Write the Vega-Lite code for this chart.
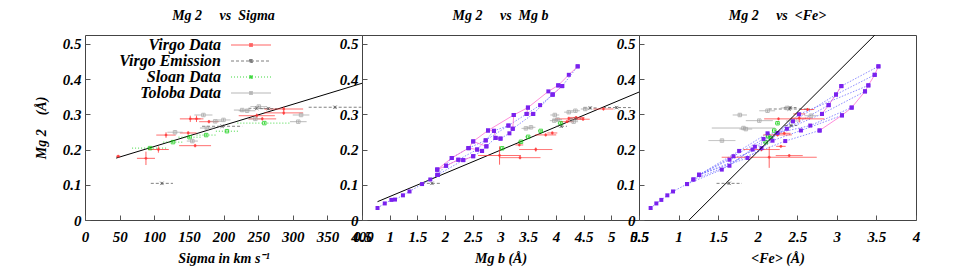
{
  "$schema": "https://vega.github.io/schema/vega-lite/v6.json",
  "background": "white",
  "padding": {"left": 33, "top": 8, "right": 5, "bottom": 5},
  "spacing": 0,
  "bounds": "flush",
  "resolve": {"scale": {"x": "independent", "y": "independent", "color": "shared", "strokeDash": "shared"}},
  "config": {
    "view": {"stroke": "#444", "strokeWidth": 1},
    "font": "Liberation Serif",
    "axis": {
      "labelFont": "Liberation Serif", "labelFontStyle": "italic", "labelFontWeight": "bold", "labelFontSize": 15, "labelColor": "#000",
      "titleFont": "Liberation Serif", "titleFontStyle": "italic", "titleFontWeight": "bold", "titleFontSize": 14, "titleColor": "#000",
      "domain": false, "grid": false, "tickColor": "#555", "tickSize": -5, "labelFlush": false, "labelOverlap": false
    },
    "axisX": {"labelPadding": 14, "titlePadding": 7},
    "axisY": {"labelPadding": 9, "titlePadding": 14},
    "title": {"font": "Liberation Serif", "fontSize": 14, "fontStyle": "italic", "fontWeight": "bold", "color": "#000", "offset": 12}
  },
  "datasets": {
    "fit": [
      {"p": 1, "x": 45, "y": 0.1757}, {"p": 1, "x": 400, "y": 0.388},
      {"p": 2, "x": 0.78, "y": 0.052}, {"p": 2, "x": 5.5, "y": 0.363},
      {"p": 3, "x": 1.133, "y": 0}, {"p": 3, "x": 3.48, "y": 0.525}
    ],
    "obs": [
      {"p":1,"s":"Virgo Data","x":48,"xlo":45,"xhi":51,"y":0.181,"ylo":0.178,"yhi":0.184},
      {"p":1,"s":"Virgo Data","x":88,"xlo":75,"xhi":101,"y":0.175,"ylo":0.156,"yhi":0.194},
      {"p":1,"s":"Virgo Data","x":106,"xlo":91,"xhi":121,"y":0.2,"ylo":0.191,"yhi":0.209},
      {"p":1,"s":"Virgo Data","x":117,"xlo":103,"xhi":131,"y":0.241,"ylo":0.233,"yhi":0.249},
      {"p":1,"s":"Virgo Data","x":149,"xlo":137,"xhi":161,"y":0.247,"ylo":0.242,"yhi":0.252},
      {"p":1,"s":"Virgo Data","x":159,"xlo":136,"xhi":182,"y":0.211,"ylo":0.206,"yhi":0.216},
      {"p":1,"s":"Virgo Data","x":152,"xlo":137,"xhi":167,"y":0.287,"ylo":0.278,"yhi":0.296},
      {"p":1,"s":"Virgo Data","x":161,"xlo":151,"xhi":171,"y":0.287,"ylo":0.278,"yhi":0.296},
      {"p":1,"s":"Virgo Data","x":179,"xlo":165,"xhi":193,"y":0.279,"ylo":0.274,"yhi":0.284},
      {"p":1,"s":"Virgo Data","x":248,"xlo":222,"xhi":274,"y":0.296,"ylo":0.29,"yhi":0.302},
      {"p":1,"s":"Virgo Data","x":256,"xlo":236,"xhi":276,"y":0.287,"ylo":0.282,"yhi":0.292},
      {"p":1,"s":"Virgo Data","x":287,"xlo":259,"xhi":315,"y":0.315,"ylo":0.309,"yhi":0.321},
      {"p":1,"s":"Virgo Data","x":287,"xlo":259,"xhi":315,"y":0.304,"ylo":0.298,"yhi":0.31},
      {"p":1,"s":"Virgo Emission","x":111,"xlo":95,"xhi":127,"y":0.104,"ylo":0.1,"yhi":0.108},
      {"p":1,"s":"Virgo Emission","x":198,"xlo":169,"xhi":227,"y":0.266,"ylo":0.262,"yhi":0.27},
      {"p":1,"s":"Virgo Emission","x":248,"xlo":236,"xhi":260,"y":0.317,"ylo":0.313,"yhi":0.321},
      {"p":1,"s":"Virgo Emission","x":265,"xlo":253,"xhi":277,"y":0.316,"ylo":0.312,"yhi":0.32},
      {"p":1,"s":"Virgo Emission","x":361,"xlo":323,"xhi":399,"y":0.32,"ylo":0.316,"yhi":0.324},
      {"p":1,"s":"Sloan Data","x":94,"xlo":68,"xhi":120,"y":0.204,"ylo":0.201,"yhi":0.207},
      {"p":1,"s":"Sloan Data","x":127,"xlo":113,"xhi":141,"y":0.221,"ylo":0.218,"yhi":0.224},
      {"p":1,"s":"Sloan Data","x":151,"xlo":135,"xhi":167,"y":0.235,"ylo":0.232,"yhi":0.238},
      {"p":1,"s":"Sloan Data","x":175,"xlo":161,"xhi":189,"y":0.241,"ylo":0.238,"yhi":0.244},
      {"p":1,"s":"Sloan Data","x":205,"xlo":189,"xhi":221,"y":0.252,"ylo":0.249,"yhi":0.255},
      {"p":1,"s":"Sloan Data","x":259,"xlo":220,"xhi":298,"y":0.275,"ylo":0.272,"yhi":0.278},
      {"p":1,"s":"Toloba Data","x":130,"xlo":119,"xhi":141,"y":0.249,"ylo":0.245,"yhi":0.253},
      {"p":1,"s":"Toloba Data","x":155,"xlo":147,"xhi":163,"y":0.224,"ylo":0.22,"yhi":0.228},
      {"p":1,"s":"Toloba Data","x":171,"xlo":158,"xhi":184,"y":0.298,"ylo":0.294,"yhi":0.302},
      {"p":1,"s":"Toloba Data","x":176,"xlo":166,"xhi":186,"y":0.261,"ylo":0.257,"yhi":0.265},
      {"p":1,"s":"Toloba Data","x":188,"xlo":178,"xhi":198,"y":0.28,"ylo":0.276,"yhi":0.284},
      {"p":1,"s":"Toloba Data","x":200,"xlo":190,"xhi":210,"y":0.284,"ylo":0.28,"yhi":0.288},
      {"p":1,"s":"Toloba Data","x":227,"xlo":215,"xhi":239,"y":0.312,"ylo":0.308,"yhi":0.316},
      {"p":1,"s":"Toloba Data","x":234,"xlo":222,"xhi":246,"y":0.31,"ylo":0.306,"yhi":0.314},
      {"p":1,"s":"Toloba Data","x":251,"xlo":239,"xhi":263,"y":0.322,"ylo":0.318,"yhi":0.326},
      {"p":1,"s":"Toloba Data","x":308,"xlo":296,"xhi":320,"y":0.279,"ylo":0.275,"yhi":0.283},
      {"p":1,"s":"Toloba Data","x":312,"xlo":300,"xhi":324,"y":0.298,"ylo":0.294,"yhi":0.302},
      {"p":1,"s":"Toloba Data","x":246,"xlo":236,"xhi":256,"y":0.287,"ylo":0.283,"yhi":0.291},

      {"p":2,"s":"Virgo Data","x":2.983,"xlo":2.596,"xhi":3.37,"y":0.183,"ylo":0.157,"yhi":0.209},
      {"p":2,"s":"Virgo Data","x":3.352,"xlo":2.983,"xhi":3.721,"y":0.177,"ylo":0.172,"yhi":0.182},
      {"p":2,"s":"Virgo Data","x":3.637,"xlo":3.339,"xhi":3.935,"y":0.2,"ylo":0.194,"yhi":0.206},
      {"p":2,"s":"Virgo Data","x":3.34,"xlo":3.27,"xhi":3.41,"y":0.213,"ylo":0.209,"yhi":0.217},
      {"p":2,"s":"Virgo Data","x":3.816,"xlo":3.626,"xhi":4.006,"y":0.2415,"ylo":0.237,"yhi":0.246},
      {"p":2,"s":"Virgo Data","x":3.935,"xlo":3.845,"xhi":4.025,"y":0.247,"ylo":0.243,"yhi":0.251},
      {"p":2,"s":"Virgo Data","x":4.233,"xlo":3.993,"xhi":4.473,"y":0.287,"ylo":0.281,"yhi":0.293},
      {"p":2,"s":"Virgo Data","x":4.364,"xlo":4.214,"xhi":4.514,"y":0.291,"ylo":0.287,"yhi":0.295},
      {"p":2,"s":"Virgo Data","x":4.49,"xlo":4.37,"xhi":4.61,"y":0.286,"ylo":0.282,"yhi":0.29},
      {"p":2,"s":"Virgo Data","x":4.858,"xlo":4.678,"xhi":5.038,"y":0.315,"ylo":0.311,"yhi":0.319},
      {"p":2,"s":"Virgo Data","x":4.2,"xlo":4.08,"xhi":4.32,"y":0.279,"ylo":0.275,"yhi":0.283},
      {"p":2,"s":"Sloan Data","x":3.03,"xlo":2.98,"xhi":3.08,"y":0.2036,"ylo":0.2006,"yhi":0.2066},
      {"p":2,"s":"Sloan Data","x":3.37,"xlo":3.32,"xhi":3.42,"y":0.222,"ylo":0.219,"yhi":0.225},
      {"p":2,"s":"Sloan Data","x":3.5,"xlo":3.45,"xhi":3.55,"y":0.236,"ylo":0.233,"yhi":0.239},
      {"p":2,"s":"Sloan Data","x":3.727,"xlo":3.677,"xhi":3.777,"y":0.2528,"ylo":0.2498,"yhi":0.2558},
      {"p":2,"s":"Sloan Data","x":4.084,"xlo":4.034,"xhi":4.134,"y":0.275,"ylo":0.272,"yhi":0.278},
      {"p":2,"s":"Virgo Emission","x":1.762,"xlo":1.58,"xhi":1.94,"y":0.104,"ylo":0.1,"yhi":0.108},
      {"p":2,"s":"Virgo Emission","x":4.096,"xlo":4.0,"xhi":4.2,"y":0.266,"ylo":0.262,"yhi":0.27},
      {"p":2,"s":"Virgo Emission","x":4.352,"xlo":4.25,"xhi":4.45,"y":0.287,"ylo":0.283,"yhi":0.291},
      {"p":2,"s":"Virgo Emission","x":4.62,"xlo":4.5,"xhi":4.74,"y":0.318,"ylo":0.314,"yhi":0.322},
      {"p":2,"s":"Virgo Emission","x":5.096,"xlo":4.85,"xhi":5.35,"y":0.319,"ylo":0.315,"yhi":0.323},
      {"p":2,"s":"Toloba Data","x":3.459,"xlo":3.38,"xhi":3.54,"y":0.26,"ylo":0.256,"yhi":0.264},
      {"p":2,"s":"Toloba Data","x":3.55,"xlo":3.47,"xhi":3.63,"y":0.263,"ylo":0.259,"yhi":0.267},
      {"p":2,"s":"Toloba Data","x":3.98,"xlo":3.9,"xhi":4.06,"y":0.298,"ylo":0.294,"yhi":0.302},
      {"p":2,"s":"Toloba Data","x":4.03,"xlo":3.95,"xhi":4.11,"y":0.285,"ylo":0.281,"yhi":0.289},
      {"p":2,"s":"Toloba Data","x":4.233,"xlo":4.15,"xhi":4.31,"y":0.306,"ylo":0.302,"yhi":0.31},
      {"p":2,"s":"Toloba Data","x":4.352,"xlo":4.27,"xhi":4.43,"y":0.31,"ylo":0.306,"yhi":0.314},
      {"p":2,"s":"Toloba Data","x":4.53,"xlo":4.45,"xhi":4.61,"y":0.315,"ylo":0.311,"yhi":0.319},
      {"p":2,"s":"Toloba Data","x":4.32,"xlo":4.24,"xhi":4.4,"y":0.279,"ylo":0.275,"yhi":0.283},
      {"p":2,"s":"Toloba Data","x":3.97,"xlo":3.89,"xhi":4.05,"y":0.282,"ylo":0.278,"yhi":0.286},

      {"p":3,"s":"Virgo Data","x":2.145,"xlo":1.545,"xhi":2.745,"y":0.178,"ylo":0.148,"yhi":0.208},
      {"p":3,"s":"Virgo Data","x":2.398,"xlo":2.228,"xhi":2.568,"y":0.1828,"ylo":0.179,"yhi":0.187},
      {"p":3,"s":"Virgo Data","x":2.048,"xlo":1.818,"xhi":2.278,"y":0.2,"ylo":0.195,"yhi":0.205},
      {"p":3,"s":"Virgo Data","x":2.293,"xlo":2.233,"xhi":2.353,"y":0.209,"ylo":0.205,"yhi":0.213},
      {"p":3,"s":"Virgo Data","x":2.251,"xlo":2.071,"xhi":2.431,"y":0.2415,"ylo":0.237,"yhi":0.246},
      {"p":3,"s":"Virgo Data","x":2.335,"xlo":2.255,"xhi":2.415,"y":0.246,"ylo":0.242,"yhi":0.25},
      {"p":3,"s":"Virgo Data","x":2.263,"xlo":2.082,"xhi":2.841,"y":0.287,"ylo":0.283,"yhi":0.291},
      {"p":3,"s":"Virgo Data","x":2.525,"xlo":2.42,"xhi":2.67,"y":0.289,"ylo":0.277,"yhi":0.301},
      {"p":3,"s":"Virgo Data","x":2.63,"xlo":2.546,"xhi":2.714,"y":0.3135,"ylo":0.309,"yhi":0.318},
      {"p":3,"s":"Virgo Data","x":2.525,"xlo":2.45,"xhi":2.6,"y":0.301,"ylo":0.297,"yhi":0.305},
      {"p":3,"s":"Sloan Data","x":2.251,"xlo":2.22,"xhi":2.28,"y":0.2746,"ylo":0.2716,"yhi":0.2776},
      {"p":3,"s":"Sloan Data","x":2.209,"xlo":2.18,"xhi":2.24,"y":0.2538,"ylo":0.2508,"yhi":0.2568},
      {"p":3,"s":"Sloan Data","x":2.133,"xlo":2.1,"xhi":2.16,"y":0.2377,"ylo":0.2347,"yhi":0.2407},
      {"p":3,"s":"Sloan Data","x":2.166,"xlo":2.14,"xhi":2.2,"y":0.232,"ylo":0.229,"yhi":0.235},
      {"p":3,"s":"Sloan Data","x":2.103,"xlo":2.07,"xhi":2.13,"y":0.2206,"ylo":0.2176,"yhi":0.2236},
      {"p":3,"s":"Virgo Emission","x":1.639,"xlo":1.48,"xhi":1.8,"y":0.104,"ylo":0.1,"yhi":0.108},
      {"p":3,"s":"Virgo Emission","x":2.398,"xlo":2.14,"xhi":2.66,"y":0.315,"ylo":0.311,"yhi":0.319},
      {"p":3,"s":"Virgo Emission","x":2.42,"xlo":2.34,"xhi":2.5,"y":0.268,"ylo":0.264,"yhi":0.272},
      {"p":3,"s":"Virgo Emission","x":2.41,"xlo":2.33,"xhi":2.49,"y":0.319,"ylo":0.315,"yhi":0.323},
      {"p":3,"s":"Toloba Data","x":1.774,"xlo":1.684,"xhi":1.864,"y":0.298,"ylo":0.294,"yhi":0.302},
      {"p":3,"s":"Toloba Data","x":1.82,"xlo":1.42,"xhi":2.22,"y":0.261,"ylo":0.257,"yhi":0.265},
      {"p":3,"s":"Toloba Data","x":1.548,"xlo":1.378,"xhi":1.718,"y":0.2254,"ylo":0.2214,"yhi":0.2294},
      {"p":3,"s":"Toloba Data","x":2.02,"xlo":1.85,"xhi":2.19,"y":0.282,"ylo":0.278,"yhi":0.286},
      {"p":3,"s":"Toloba Data","x":2.124,"xlo":2.02,"xhi":2.22,"y":0.31,"ylo":0.306,"yhi":0.314},
      {"p":3,"s":"Toloba Data","x":2.369,"xlo":2.29,"xhi":2.45,"y":0.318,"ylo":0.314,"yhi":0.322},
      {"p":3,"s":"Toloba Data","x":2.673,"xlo":2.59,"xhi":2.75,"y":0.296,"ylo":0.292,"yhi":0.3},
      {"p":3,"s":"Toloba Data","x":2.44,"xlo":2.36,"xhi":2.52,"y":0.281,"ylo":0.277,"yhi":0.285},
      {"p":3,"s":"Toloba Data","x":1.85,"xlo":1.77,"xhi":1.93,"y":0.258,"ylo":0.254,"yhi":0.262}
    ],
    "grid": [
      {"p":2,"g":"2L","k":"a","o":1,"x":0.78,"y":0.034},
      {"p":2,"g":"2L","k":"a","o":2,"x":0.911,"y":0.047},
      {"p":2,"g":"2L","k":"a","o":3,"x":1.03,"y":0.057},
      {"p":2,"g":"2L","k":"a","o":4,"x":1.096,"y":0.058},
      {"p":2,"g":"2L","k":"a","o":5,"x":1.239,"y":0.07},
      {"p":2,"g":"2L","k":"a","o":6,"x":1.358,"y":0.081},
      {"p":2,"g":"2L","k":"a","o":7,"x":1.584,"y":0.102},
      {"p":2,"g":"2L","k":"a","o":8,"x":1.733,"y":0.115},
      {"p":2,"g":"2L","k":"a","o":9,"x":1.864,"y":0.128},
      {"p":2,"g":"2A","k":"z","o":1,"x":1.858,"y":0.143},
      {"p":2,"g":"2A","k":"z","o":2,"x":2.12,"y":0.176},
      {"p":2,"g":"2A","k":"z","o":3,"x":2.423,"y":0.204},
      {"p":2,"g":"2A","k":"z","o":4,"x":2.507,"y":0.223},
      {"p":2,"g":"2A","k":"z","o":5,"x":2.774,"y":0.254},
      {"p":2,"g":"2A","k":"z","o":6,"x":3.239,"y":0.298},
      {"p":2,"g":"2A","k":"z","o":7,"x":3.495,"y":0.319},
      {"p":2,"g":"2A","k":"z","o":8,"x":3.864,"y":0.365},
      {"p":2,"g":"2A","k":"z","o":9,"x":4.042,"y":0.382},
      {"p":2,"g":"2A","k":"z","o":10,"x":4.233,"y":0.412},
      {"p":2,"g":"2A","k":"z","o":11,"x":4.393,"y":0.436},
      {"p":2,"g":"2B","k":"a","o":1,"x":2.018,"y":0.154},
      {"p":2,"g":"2B","k":"a","o":2,"x":2.239,"y":0.171},
      {"p":2,"g":"2B","k":"a","o":3,"x":2.578,"y":0.2},
      {"p":2,"g":"2B","k":"a","o":4,"x":2.733,"y":0.226},
      {"p":2,"g":"2B","k":"a","o":5,"x":2.882,"y":0.253},
      {"p":2,"g":"2B","k":"a","o":6,"x":3.143,"y":0.268},
      {"p":2,"g":"2B","k":"a","o":7,"x":3.471,"y":0.301},
      {"p":2,"g":"2B","k":"a","o":8,"x":3.715,"y":0.326},
      {"p":2,"g":"2B","k":"a","o":9,"x":3.941,"y":0.356},
      {"p":2,"g":"2B","k":"a","o":10,"x":4.114,"y":0.38},
      {"p":2,"g":"2B","k":"a","o":11,"x":4.393,"y":0.436},
      {"p":2,"g":"2C","k":"a","o":1,"x":1.864,"y":0.128},
      {"p":2,"g":"2C","k":"a","o":2,"x":2.328,"y":0.17},
      {"p":2,"g":"2C","k":"a","o":3,"x":2.507,"y":0.181},
      {"p":2,"g":"2C","k":"a","o":4,"x":2.667,"y":0.196},
      {"p":2,"g":"2C","k":"a","o":5,"x":2.745,"y":0.209},
      {"p":2,"g":"2C","k":"a","o":6,"x":2.911,"y":0.233},
      {"p":2,"g":"2C","k":"a","o":7,"x":3.0,"y":0.231},
      {"p":2,"g":"2C","k":"a","o":8,"x":3.161,"y":0.246},
      {"p":2,"g":"2C","k":"a","o":9,"x":3.221,"y":0.259},
      {"p":2,"g":"2C","k":"a","o":10,"x":3.59,"y":0.301},
      {"p":2,"g":"2C","k":"a","o":11,"x":3.941,"y":0.356},
      {"p":2,"g":"2D","k":"a","o":1,"x":1.864,"y":0.128},
      {"p":2,"g":"2D","k":"a","o":2,"x":1.858,"y":0.143},
      {"p":2,"g":"2E","k":"a","o":1,"x":1.864,"y":0.128},
      {"p":2,"g":"2E","k":"a","o":2,"x":2.12,"y":0.176},
      {"p":2,"g":"2E","k":"a","o":3,"x":2.423,"y":0.204},
      {"p":2,"g":"2E","k":"a","o":4,"x":2.733,"y":0.226},
      {"p":2,"g":"2E","k":"a","o":5,"x":3.143,"y":0.268},
      {"p":2,"g":"2Z1","k":"z","o":1,"x":1.858,"y":0.143},
      {"p":2,"g":"2Z1","k":"z","o":2,"x":2.018,"y":0.154},
      {"p":2,"g":"2Z1","k":"z","o":3,"x":2.239,"y":0.171},
      {"p":2,"g":"2Z1","k":"z","o":4,"x":2.328,"y":0.17},
      {"p":2,"g":"2Z1","k":"z","o":5,"x":2.507,"y":0.181},
      {"p":2,"g":"2Z2","k":"z","o":1,"x":2.423,"y":0.204},
      {"p":2,"g":"2Z2","k":"z","o":2,"x":2.578,"y":0.2},
      {"p":2,"g":"2Z2","k":"z","o":3,"x":2.667,"y":0.196},
      {"p":2,"g":"2Z3","k":"z","o":1,"x":2.507,"y":0.223},
      {"p":2,"g":"2Z3","k":"z","o":2,"x":2.745,"y":0.209},
      {"p":2,"g":"2Z4","k":"z","o":1,"x":2.774,"y":0.254},
      {"p":2,"g":"2Z4","k":"z","o":2,"x":2.882,"y":0.253},
      {"p":2,"g":"2Z4","k":"z","o":3,"x":2.911,"y":0.233},
      {"p":2,"g":"2Z4","k":"z","o":4,"x":3.0,"y":0.231},
      {"p":2,"g":"2Z5","k":"z","o":1,"x":3.239,"y":0.298},
      {"p":2,"g":"2Z5","k":"z","o":2,"x":3.221,"y":0.259},
      {"p":2,"g":"2Z6","k":"z","o":1,"x":3.495,"y":0.319},
      {"p":2,"g":"2Z6","k":"z","o":2,"x":3.471,"y":0.301},
      {"p":2,"g":"2Z6","k":"z","o":3,"x":3.59,"y":0.301},
      {"p":2,"g":"2Z7","k":"z","o":1,"x":4.042,"y":0.382},
      {"p":2,"g":"2Z7","k":"z","o":2,"x":4.114,"y":0.38},
      {"p":2,"g":"2Z7","k":"z","o":3,"x":3.941,"y":0.356},

      {"p":3,"g":"3L","k":"a","o":1,"x":0.647,"y":0.034},
      {"p":3,"g":"3L","k":"a","o":2,"x":0.719,"y":0.047},
      {"p":3,"g":"3L","k":"a","o":3,"x":0.782,"y":0.057},
      {"p":3,"g":"3L","k":"a","o":4,"x":0.858,"y":0.07},
      {"p":3,"g":"3L","k":"a","o":5,"x":0.93,"y":0.081},
      {"p":3,"g":"3L","k":"a","o":6,"x":1.107,"y":0.102},
      {"p":3,"g":"3L","k":"a","o":7,"x":1.187,"y":0.115},
      {"p":3,"g":"3L","k":"a","o":8,"x":1.259,"y":0.128},
      {"p":3,"g":"3T1","k":"a","o":1,"x":1.107,"y":0.102},
      {"p":3,"g":"3T1","k":"a","o":2,"x":1.546,"y":0.143},
      {"p":3,"g":"3T1","k":"a","o":3,"x":1.934,"y":0.2},
      {"p":3,"g":"3T1","k":"a","o":4,"x":2.369,"y":0.259},
      {"p":3,"g":"3T1","k":"a","o":5,"x":2.896,"y":0.326},
      {"p":3,"g":"3T1","k":"a","o":6,"x":3.057,"y":0.38},
      {"p":3,"g":"3T1","k":"a","o":7,"x":3.525,"y":0.436},
      {"p":3,"g":"3T2","k":"a","o":1,"x":1.187,"y":0.115},
      {"p":3,"g":"3T2","k":"a","o":2,"x":1.643,"y":0.154},
      {"p":3,"g":"3T2","k":"a","o":3,"x":1.964,"y":0.208},
      {"p":3,"g":"3T2","k":"a","o":4,"x":2.445,"y":0.28},
      {"p":3,"g":"3T2","k":"a","o":5,"x":2.989,"y":0.356},
      {"p":3,"g":"3T2","k":"a","o":6,"x":3.478,"y":0.412},
      {"p":3,"g":"3T3","k":"a","o":1,"x":1.259,"y":0.128},
      {"p":3,"g":"3T3","k":"a","o":2,"x":1.643,"y":0.171},
      {"p":3,"g":"3T3","k":"a","o":3,"x":2.048,"y":0.204},
      {"p":3,"g":"3T3","k":"a","o":4,"x":2.521,"y":0.3},
      {"p":3,"g":"3T3","k":"a","o":5,"x":3.398,"y":0.382},
      {"p":3,"g":"3T4","k":"a","o":1,"x":1.259,"y":0.128},
      {"p":3,"g":"3T4","k":"a","o":2,"x":1.694,"y":0.181},
      {"p":3,"g":"3T4","k":"a","o":3,"x":2.073,"y":0.23},
      {"p":3,"g":"3T4","k":"a","o":4,"x":2.812,"y":0.301},
      {"p":3,"g":"3T4","k":"a","o":5,"x":3.356,"y":0.365},
      {"p":3,"g":"3T5","k":"a","o":1,"x":1.259,"y":0.128},
      {"p":3,"g":"3T5","k":"a","o":2,"x":1.765,"y":0.196},
      {"p":3,"g":"3T5","k":"a","o":3,"x":2.124,"y":0.246},
      {"p":3,"g":"3T5","k":"a","o":4,"x":2.251,"y":0.247},
      {"p":3,"g":"3T5","k":"a","o":5,"x":2.664,"y":0.268},
      {"p":3,"g":"3T5","k":"a","o":6,"x":3.187,"y":0.319},
      {"p":3,"g":"3T6","k":"a","o":1,"x":1.259,"y":0.128},
      {"p":3,"g":"3T6","k":"a","o":2,"x":1.871,"y":0.176},
      {"p":3,"g":"3T6","k":"a","o":3,"x":2.187,"y":0.225},
      {"p":3,"g":"3T6","k":"a","o":4,"x":2.546,"y":0.254},
      {"p":3,"g":"3T6","k":"a","o":5,"x":3.065,"y":0.297},
      {"p":3,"g":"3T7","k":"a","o":1,"x":1.259,"y":0.128},
      {"p":3,"g":"3T7","k":"a","o":2,"x":2.348,"y":0.224},
      {"p":3,"g":"3T7","k":"a","o":3,"x":2.782,"y":0.254},
      {"p":3,"g":"3Z1","k":"z","o":1,"x":3.525,"y":0.436},
      {"p":3,"g":"3Z1","k":"z","o":2,"x":3.478,"y":0.412},
      {"p":3,"g":"3Z1","k":"z","o":3,"x":3.398,"y":0.382},
      {"p":3,"g":"3Z1","k":"z","o":4,"x":3.356,"y":0.365},
      {"p":3,"g":"3Z1","k":"z","o":5,"x":3.187,"y":0.319},
      {"p":3,"g":"3Z1","k":"z","o":6,"x":3.065,"y":0.297},
      {"p":3,"g":"3Z1","k":"z","o":7,"x":2.782,"y":0.254},
      {"p":3,"g":"3Z2","k":"z","o":1,"x":3.057,"y":0.38},
      {"p":3,"g":"3Z2","k":"z","o":2,"x":2.989,"y":0.356},
      {"p":3,"g":"3Z2","k":"z","o":3,"x":2.896,"y":0.326},
      {"p":3,"g":"3Z2","k":"z","o":4,"x":2.812,"y":0.301}
    ]
  },
  "hconcat": [
    {
      "width": 277, "height": 185,
      "title": "Mg 2\u00a0\u00a0\u00a0\u00a0 vs\u00a0 Sigma",
      "layer": [
        {
          "data": {"name": "fit"}, "transform": [{"filter": "datum.p == 1"}],
          "mark": {"type": "line", "color": "#000", "strokeWidth": 1, "clip": true},
          "encoding": {
            "x": {"field": "x", "type": "quantitative", "scale": {"domain": [0, 400], "nice": false, "zero": false}, "axis": {"values": [0,50,100,150,200,250,300,350,400], "format": "~r", "title": "Sigma in km s\u207b\u00b9"}},
            "y": {"field": "y", "type": "quantitative", "scale": {"domain": [0, 0.525], "nice": false, "zero": false}, "axis": {"values": [0,0.1,0.2,0.3,0.4,0.5], "format": "~r", "title": "Mg 2\u00a0\u00a0\u00a0 (\u00c5)"}}
          }
        },
        {
          "data": {"name": "obs"}, "transform": [{"filter": "datum.p == 1"}],
          "mark": {"type": "rule", "strokeWidth": 1, "opacity": 0.75, "clip": true},
          "encoding": {
            "x": {"field": "xlo", "type": "quantitative", "scale": {"domain": [0, 400], "nice": false, "zero": false}, "axis": {"values": [0,50,100,150,200,250,300,350,400], "format": "~r", "title": "Sigma in km s\u207b\u00b9"}},
            "x2": {"field": "xhi"},
            "y": {"field": "y", "type": "quantitative", "scale": {"domain": [0, 0.525], "nice": false, "zero": false}, "axis": {"values": [0,0.1,0.2,0.3,0.4,0.5], "format": "~r", "title": "Mg 2\u00a0\u00a0\u00a0 (\u00c5)"}},
            "color": {"field": "s", "type": "nominal", "scale": {"domain": ["Virgo Data","Virgo Emission","Sloan Data","Toloba Data"], "range": ["#ff3030","#555555","#00cc00","#a0a0a0"]}, "legend": {
              "orient": "none", "legendX": 158, "legendY": 2, "title": null, "padding": 0,
              "symbolType": "M-4,0H4M-0.3,-0.3H0.3V0.3H-0.3Z", "symbolSize": 100, "symbolStrokeWidth": 1,
              "labelAlign": "right", "labelOffset": -38, "labelFont": "Liberation Serif", "labelFontSize": 16, "labelFontStyle": "italic", "labelFontWeight": "bold", "labelColor": "#000", "rowPadding": 0,
              "encode": {"symbols": {"update": {
                "fill": {"value": "transparent"},
                "strokeWidth": {"value": 1},
                "strokeDash": {"signal": "datum.value === 'Virgo Emission' ? [3,2] : (datum.value === 'Sloan Data' ? [1,2] : [])"}
              }}}
            }},
            "strokeDash": {"field": "s", "type": "nominal", "scale": {"domain": ["Virgo Data","Virgo Emission","Sloan Data","Toloba Data"], "range": [[1,0],[3,2],[1,2],[1,0]]}, "legend": null}
          }
        },
        {
          "data": {"name": "obs"}, "transform": [{"filter": "datum.p == 1"}],
          "mark": {"type": "rule", "strokeWidth": 1, "opacity": 0.75, "clip": true},
          "encoding": {
            "x": {"field": "x", "type": "quantitative", "scale": {"domain": [0, 400], "nice": false, "zero": false}, "axis": {"values": [0,50,100,150,200,250,300,350,400], "format": "~r", "title": "Sigma in km s\u207b\u00b9"}},
            "y": {"field": "ylo", "type": "quantitative", "scale": {"domain": [0, 0.525], "nice": false, "zero": false}, "axis": {"values": [0,0.1,0.2,0.3,0.4,0.5], "format": "~r", "title": "Mg 2\u00a0\u00a0\u00a0 (\u00c5)"}},
            "y2": {"field": "yhi"},
            "color": {"field": "s", "type": "nominal"}
          }
        },
        {
          "data": {"name": "obs"}, "transform": [{"filter": "datum.p == 1 && datum.s == 'Virgo Data'"}],
          "mark": {"type": "point", "shape": "circle", "filled": true, "size": 8, "clip": true},
          "encoding": {
            "x": {"field": "x", "type": "quantitative", "scale": {"domain": [0, 400], "nice": false, "zero": false}, "axis": {"values": [0,50,100,150,200,250,300,350,400], "format": "~r", "title": "Sigma in km s\u207b\u00b9"}},
            "y": {"field": "y", "type": "quantitative", "scale": {"domain": [0, 0.525], "nice": false, "zero": false}, "axis": {"values": [0,0.1,0.2,0.3,0.4,0.5], "format": "~r", "title": "Mg 2\u00a0\u00a0\u00a0 (\u00c5)"}},
            "color": {"field": "s", "type": "nominal"}
          }
        },
        {
          "data": {"name": "obs"}, "transform": [{"filter": "datum.p == 1 && datum.s == 'Virgo Emission'"}],
          "mark": {"type": "point", "shape": "M-1,-1L1,1M-1,1L1,-1", "filled": false, "strokeWidth": 1, "size": 12, "clip": true},
          "encoding": {
            "x": {"field": "x", "type": "quantitative", "scale": {"domain": [0, 400], "nice": false, "zero": false}, "axis": {"values": [0,50,100,150,200,250,300,350,400], "format": "~r", "title": "Sigma in km s\u207b\u00b9"}},
            "y": {"field": "y", "type": "quantitative", "scale": {"domain": [0, 0.525], "nice": false, "zero": false}, "axis": {"values": [0,0.1,0.2,0.3,0.4,0.5], "format": "~r", "title": "Mg 2\u00a0\u00a0\u00a0 (\u00c5)"}},
            "color": {"field": "s", "type": "nominal"}
          }
        },
        {
          "data": {"name": "obs"}, "transform": [{"filter": "datum.p == 1 && (datum.s == 'Sloan Data' || datum.s == 'Toloba Data')"}],
          "mark": {"type": "point", "shape": "square", "filled": false, "strokeWidth": 1, "size": 12, "clip": true},
          "encoding": {
            "x": {"field": "x", "type": "quantitative", "scale": {"domain": [0, 400], "nice": false, "zero": false}, "axis": {"values": [0,50,100,150,200,250,300,350,400], "format": "~r", "title": "Sigma in km s\u207b\u00b9"}},
            "y": {"field": "y", "type": "quantitative", "scale": {"domain": [0, 0.525], "nice": false, "zero": false}, "axis": {"values": [0,0.1,0.2,0.3,0.4,0.5], "format": "~r", "title": "Mg 2\u00a0\u00a0\u00a0 (\u00c5)"}},
            "color": {"field": "s", "type": "nominal"}
          }
        }
      ]
    },
    {
      "width": 277, "height": 185,
      "title": "Mg 2\u00a0\u00a0\u00a0\u00a0 vs\u00a0 Mg b",
      "layer": [
        {
          "data": {"name": "fit"}, "transform": [{"filter": "datum.p == 2"}],
          "mark": {"type": "line", "color": "#000", "strokeWidth": 1, "clip": true},
          "encoding": {
            "x": {"field": "x", "type": "quantitative", "scale": {"domain": [0.5, 5.5], "nice": false, "zero": false}, "axis": {"values": [0.5,1,1.5,2,2.5,3,3.5,4,4.5,5,5.5], "format": "~r", "title": "Mg b (\u00c5)"}},
            "y": {"field": "y", "type": "quantitative", "scale": {"domain": [0, 0.525], "nice": false, "zero": false}, "axis": {"values": [0,0.1,0.2,0.3,0.4,0.5], "format": "~r", "title": null}}
          }
        },
        {
          "data": {"name": "grid"}, "transform": [{"filter": "datum.p == 2 && datum.k == 'a'"}],
          "mark": {"type": "line", "color": "#7070ff", "strokeWidth": 0.8, "strokeDash": [1.5, 1.5], "clip": true},
          "encoding": {
            "x": {"field": "x", "type": "quantitative", "scale": {"domain": [0.5, 5.5], "nice": false, "zero": false}, "axis": {"values": [0.5,1,1.5,2,2.5,3,3.5,4,4.5,5,5.5], "format": "~r", "title": "Mg b (\u00c5)"}},
            "y": {"field": "y", "type": "quantitative", "scale": {"domain": [0, 0.525], "nice": false, "zero": false}, "axis": {"values": [0,0.1,0.2,0.3,0.4,0.5], "format": "~r", "title": null}},
            "detail": {"field": "g"},
            "order": {"field": "o", "type": "quantitative"}
          }
        },
        {
          "data": {"name": "grid"}, "transform": [{"filter": "datum.p == 2 && datum.k == 'z'"}],
          "mark": {"type": "line", "color": "#ff70d0", "strokeWidth": 0.8, "clip": true},
          "encoding": {
            "x": {"field": "x", "type": "quantitative", "scale": {"domain": [0.5, 5.5], "nice": false, "zero": false}, "axis": {"values": [0.5,1,1.5,2,2.5,3,3.5,4,4.5,5,5.5], "format": "~r", "title": "Mg b (\u00c5)"}},
            "y": {"field": "y", "type": "quantitative", "scale": {"domain": [0, 0.525], "nice": false, "zero": false}, "axis": {"values": [0,0.1,0.2,0.3,0.4,0.5], "format": "~r", "title": null}},
            "detail": {"field": "g"},
            "order": {"field": "o", "type": "quantitative"}
          }
        },
        {
          "data": {"name": "obs"}, "transform": [{"filter": "datum.p == 2"}],
          "mark": {"type": "rule", "strokeWidth": 1, "opacity": 0.75, "clip": true},
          "encoding": {
            "x": {"field": "xlo", "type": "quantitative", "scale": {"domain": [0.5, 5.5], "nice": false, "zero": false}, "axis": {"values": [0.5,1,1.5,2,2.5,3,3.5,4,4.5,5,5.5], "format": "~r", "title": "Mg b (\u00c5)"}},
            "x2": {"field": "xhi"},
            "y": {"field": "y", "type": "quantitative", "scale": {"domain": [0, 0.525], "nice": false, "zero": false}, "axis": {"values": [0,0.1,0.2,0.3,0.4,0.5], "format": "~r", "title": null}},
            "color": {"field": "s", "type": "nominal"},
            "strokeDash": {"field": "s", "type": "nominal", "legend": null}
          }
        },
        {
          "data": {"name": "obs"}, "transform": [{"filter": "datum.p == 2"}],
          "mark": {"type": "rule", "strokeWidth": 1, "opacity": 0.75, "clip": true},
          "encoding": {
            "x": {"field": "x", "type": "quantitative", "scale": {"domain": [0.5, 5.5], "nice": false, "zero": false}, "axis": {"values": [0.5,1,1.5,2,2.5,3,3.5,4,4.5,5,5.5], "format": "~r", "title": "Mg b (\u00c5)"}},
            "y": {"field": "ylo", "type": "quantitative", "scale": {"domain": [0, 0.525], "nice": false, "zero": false}, "axis": {"values": [0,0.1,0.2,0.3,0.4,0.5], "format": "~r", "title": null}},
            "y2": {"field": "yhi"},
            "color": {"field": "s", "type": "nominal"}
          }
        },
        {
          "data": {"name": "obs"}, "transform": [{"filter": "datum.p == 2 && datum.s == 'Virgo Data'"}],
          "mark": {"type": "point", "shape": "circle", "filled": true, "size": 8, "clip": true},
          "encoding": {
            "x": {"field": "x", "type": "quantitative", "scale": {"domain": [0.5, 5.5], "nice": false, "zero": false}, "axis": {"values": [0.5,1,1.5,2,2.5,3,3.5,4,4.5,5,5.5], "format": "~r", "title": "Mg b (\u00c5)"}},
            "y": {"field": "y", "type": "quantitative", "scale": {"domain": [0, 0.525], "nice": false, "zero": false}, "axis": {"values": [0,0.1,0.2,0.3,0.4,0.5], "format": "~r", "title": null}},
            "color": {"field": "s", "type": "nominal"}
          }
        },
        {
          "data": {"name": "obs"}, "transform": [{"filter": "datum.p == 2 && datum.s == 'Virgo Emission'"}],
          "mark": {"type": "point", "shape": "M-1,-1L1,1M-1,1L1,-1", "filled": false, "strokeWidth": 1, "size": 12, "clip": true},
          "encoding": {
            "x": {"field": "x", "type": "quantitative", "scale": {"domain": [0.5, 5.5], "nice": false, "zero": false}, "axis": {"values": [0.5,1,1.5,2,2.5,3,3.5,4,4.5,5,5.5], "format": "~r", "title": "Mg b (\u00c5)"}},
            "y": {"field": "y", "type": "quantitative", "scale": {"domain": [0, 0.525], "nice": false, "zero": false}, "axis": {"values": [0,0.1,0.2,0.3,0.4,0.5], "format": "~r", "title": null}},
            "color": {"field": "s", "type": "nominal"}
          }
        },
        {
          "data": {"name": "obs"}, "transform": [{"filter": "datum.p == 2 && (datum.s == 'Sloan Data' || datum.s == 'Toloba Data')"}],
          "mark": {"type": "point", "shape": "square", "filled": false, "strokeWidth": 1, "size": 12, "clip": true},
          "encoding": {
            "x": {"field": "x", "type": "quantitative", "scale": {"domain": [0.5, 5.5], "nice": false, "zero": false}, "axis": {"values": [0.5,1,1.5,2,2.5,3,3.5,4,4.5,5,5.5], "format": "~r", "title": "Mg b (\u00c5)"}},
            "y": {"field": "y", "type": "quantitative", "scale": {"domain": [0, 0.525], "nice": false, "zero": false}, "axis": {"values": [0,0.1,0.2,0.3,0.4,0.5], "format": "~r", "title": null}},
            "color": {"field": "s", "type": "nominal"}
          }
        },
        {
          "data": {"name": "grid"}, "transform": [{"filter": "datum.p == 2"}],
          "mark": {"type": "square", "color": "#7a22ee", "size": 16, "opacity": 1, "clip": true},
          "encoding": {
            "x": {"field": "x", "type": "quantitative", "scale": {"domain": [0.5, 5.5], "nice": false, "zero": false}, "axis": {"values": [0.5,1,1.5,2,2.5,3,3.5,4,4.5,5,5.5], "format": "~r", "title": "Mg b (\u00c5)"}},
            "y": {"field": "y", "type": "quantitative", "scale": {"domain": [0, 0.525], "nice": false, "zero": false}, "axis": {"values": [0,0.1,0.2,0.3,0.4,0.5], "format": "~r", "title": null}}
          }
        }
      ]
    },
    {
      "width": 277, "height": 185,
      "title": "Mg 2\u00a0\u00a0\u00a0\u00a0 vs\u00a0 <Fe>",
      "layer": [
        {
          "data": {"name": "grid"}, "transform": [{"filter": "datum.p == 3 && datum.k == 'a'"}],
          "mark": {"type": "line", "color": "#7070ff", "strokeWidth": 0.8, "strokeDash": [1.5, 1.5], "clip": true},
          "encoding": {
            "x": {"field": "x", "type": "quantitative", "scale": {"domain": [0.5, 4], "nice": false, "zero": false}, "axis": {"values": [0.5,1,1.5,2,2.5,3,3.5,4], "format": "~r", "title": "<Fe> (\u00c5)"}},
            "y": {"field": "y", "type": "quantitative", "scale": {"domain": [0, 0.525], "nice": false, "zero": false}, "axis": {"values": [0,0.1,0.2,0.3,0.4,0.5], "format": "~r", "title": null}},
            "detail": {"field": "g"},
            "order": {"field": "o", "type": "quantitative"}
          }
        },
        {
          "data": {"name": "grid"}, "transform": [{"filter": "datum.p == 3 && datum.k == 'z'"}],
          "mark": {"type": "line", "color": "#ff70d0", "strokeWidth": 0.8, "clip": true},
          "encoding": {
            "x": {"field": "x", "type": "quantitative", "scale": {"domain": [0.5, 4], "nice": false, "zero": false}, "axis": {"values": [0.5,1,1.5,2,2.5,3,3.5,4], "format": "~r", "title": "<Fe> (\u00c5)"}},
            "y": {"field": "y", "type": "quantitative", "scale": {"domain": [0, 0.525], "nice": false, "zero": false}, "axis": {"values": [0,0.1,0.2,0.3,0.4,0.5], "format": "~r", "title": null}},
            "detail": {"field": "g"},
            "order": {"field": "o", "type": "quantitative"}
          }
        },
        {
          "data": {"name": "obs"}, "transform": [{"filter": "datum.p == 3"}],
          "mark": {"type": "rule", "strokeWidth": 1, "opacity": 0.75, "clip": true},
          "encoding": {
            "x": {"field": "xlo", "type": "quantitative", "scale": {"domain": [0.5, 4], "nice": false, "zero": false}, "axis": {"values": [0.5,1,1.5,2,2.5,3,3.5,4], "format": "~r", "title": "<Fe> (\u00c5)"}},
            "x2": {"field": "xhi"},
            "y": {"field": "y", "type": "quantitative", "scale": {"domain": [0, 0.525], "nice": false, "zero": false}, "axis": {"values": [0,0.1,0.2,0.3,0.4,0.5], "format": "~r", "title": null}},
            "color": {"field": "s", "type": "nominal"},
            "strokeDash": {"field": "s", "type": "nominal", "legend": null}
          }
        },
        {
          "data": {"name": "obs"}, "transform": [{"filter": "datum.p == 3"}],
          "mark": {"type": "rule", "strokeWidth": 1, "opacity": 0.75, "clip": true},
          "encoding": {
            "x": {"field": "x", "type": "quantitative", "scale": {"domain": [0.5, 4], "nice": false, "zero": false}, "axis": {"values": [0.5,1,1.5,2,2.5,3,3.5,4], "format": "~r", "title": "<Fe> (\u00c5)"}},
            "y": {"field": "ylo", "type": "quantitative", "scale": {"domain": [0, 0.525], "nice": false, "zero": false}, "axis": {"values": [0,0.1,0.2,0.3,0.4,0.5], "format": "~r", "title": null}},
            "y2": {"field": "yhi"},
            "color": {"field": "s", "type": "nominal"}
          }
        },
        {
          "data": {"name": "obs"}, "transform": [{"filter": "datum.p == 3 && datum.s == 'Virgo Data'"}],
          "mark": {"type": "point", "shape": "circle", "filled": true, "size": 8, "clip": true},
          "encoding": {
            "x": {"field": "x", "type": "quantitative", "scale": {"domain": [0.5, 4], "nice": false, "zero": false}, "axis": {"values": [0.5,1,1.5,2,2.5,3,3.5,4], "format": "~r", "title": "<Fe> (\u00c5)"}},
            "y": {"field": "y", "type": "quantitative", "scale": {"domain": [0, 0.525], "nice": false, "zero": false}, "axis": {"values": [0,0.1,0.2,0.3,0.4,0.5], "format": "~r", "title": null}},
            "color": {"field": "s", "type": "nominal"}
          }
        },
        {
          "data": {"name": "obs"}, "transform": [{"filter": "datum.p == 3 && datum.s == 'Virgo Emission'"}],
          "mark": {"type": "point", "shape": "M-1,-1L1,1M-1,1L1,-1", "filled": false, "strokeWidth": 1, "size": 12, "clip": true},
          "encoding": {
            "x": {"field": "x", "type": "quantitative", "scale": {"domain": [0.5, 4], "nice": false, "zero": false}, "axis": {"values": [0.5,1,1.5,2,2.5,3,3.5,4], "format": "~r", "title": "<Fe> (\u00c5)"}},
            "y": {"field": "y", "type": "quantitative", "scale": {"domain": [0, 0.525], "nice": false, "zero": false}, "axis": {"values": [0,0.1,0.2,0.3,0.4,0.5], "format": "~r", "title": null}},
            "color": {"field": "s", "type": "nominal"}
          }
        },
        {
          "data": {"name": "obs"}, "transform": [{"filter": "datum.p == 3 && (datum.s == 'Sloan Data' || datum.s == 'Toloba Data')"}],
          "mark": {"type": "point", "shape": "square", "filled": false, "strokeWidth": 1, "size": 12, "clip": true},
          "encoding": {
            "x": {"field": "x", "type": "quantitative", "scale": {"domain": [0.5, 4], "nice": false, "zero": false}, "axis": {"values": [0.5,1,1.5,2,2.5,3,3.5,4], "format": "~r", "title": "<Fe> (\u00c5)"}},
            "y": {"field": "y", "type": "quantitative", "scale": {"domain": [0, 0.525], "nice": false, "zero": false}, "axis": {"values": [0,0.1,0.2,0.3,0.4,0.5], "format": "~r", "title": null}},
            "color": {"field": "s", "type": "nominal"}
          }
        },
        {
          "data": {"name": "grid"}, "transform": [{"filter": "datum.p == 3"}],
          "mark": {"type": "square", "color": "#7a22ee", "size": 16, "opacity": 1, "clip": true},
          "encoding": {
            "x": {"field": "x", "type": "quantitative", "scale": {"domain": [0.5, 4], "nice": false, "zero": false}, "axis": {"values": [0.5,1,1.5,2,2.5,3,3.5,4], "format": "~r", "title": "<Fe> (\u00c5)"}},
            "y": {"field": "y", "type": "quantitative", "scale": {"domain": [0, 0.525], "nice": false, "zero": false}, "axis": {"values": [0,0.1,0.2,0.3,0.4,0.5], "format": "~r", "title": null}}
          }
        },
        {
          "data": {"name": "fit"}, "transform": [{"filter": "datum.p == 3"}],
          "mark": {"type": "line", "color": "#000", "strokeWidth": 1, "clip": true},
          "encoding": {
            "x": {"field": "x", "type": "quantitative", "scale": {"domain": [0.5, 4], "nice": false, "zero": false}, "axis": {"values": [0.5,1,1.5,2,2.5,3,3.5,4], "format": "~r", "title": "<Fe> (\u00c5)"}},
            "y": {"field": "y", "type": "quantitative", "scale": {"domain": [0, 0.525], "nice": false, "zero": false}, "axis": {"values": [0,0.1,0.2,0.3,0.4,0.5], "format": "~r", "title": null}}
          }
        }
      ]
    }
  ]
}
